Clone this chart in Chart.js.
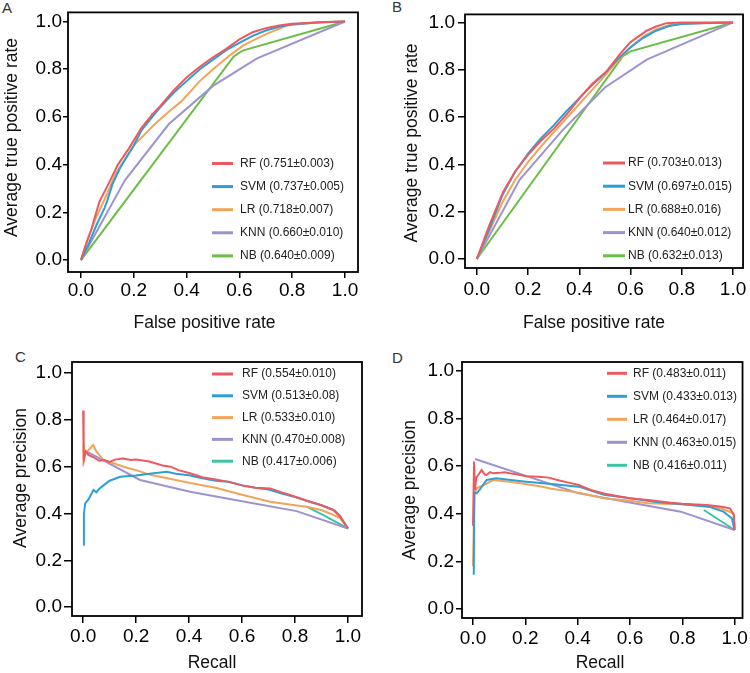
<!DOCTYPE html>
<html>
<head>
<meta charset="utf-8">
<script src="https://cdn.jsdelivr.net/npm/chart.js@4.4.0/dist/chart.umd.min.js"></script>
<style>
  body { margin: 0; background: #fff; width: 750px; height: 673px; position: relative; overflow: hidden;
         font-family: 'Liberation Sans', Arial, sans-serif; }
  canvas { position: absolute; }
  .tag { position: absolute; font-size: 15px; line-height: 15px; color: #333; }
</style>
</head>
<body>
<div class="tag" style="left:2px;top:0px">A</div>
<div class="tag" style="left:392px;top:-1px">B</div>
<div class="tag" style="left:15px;top:349px">C</div>
<div class="tag" style="left:392px;top:350px">D</div>
<canvas id="cA" width="375" height="334" style="left:0;top:0"></canvas>
<canvas id="cB" width="375" height="334" style="left:375px;top:0"></canvas>
<canvas id="cC" width="375" height="343" style="left:0;top:330px"></canvas>
<canvas id="cD" width="375" height="343" style="left:375px;top:330px"></canvas>
<script>
// models and scores
const models = ['RF', 'SVM', 'LR', 'KNN', 'NB'];
const scoreA = ['0.751±0.003', '0.737±0.005', '0.718±0.007', '0.660±0.010', '0.640±0.009'];
const scoreB = ['0.703±0.013', '0.697±0.015', '0.688±0.016', '0.640±0.012', '0.632±0.013'];
const scoreC = ['0.554±0.010', '0.513±0.08', '0.533±0.010', '0.470±0.008', '0.417±0.006'];
const scoreD = ['0.483±0.011', '0.433±0.013', '0.464±0.017', '0.463±0.015', '0.416±0.011'];
const tickVals = [0, 0.2, 0.4, 0.6, 0.8, 1.0];

// A: ROC curves [fpr, tpr]
const A_RF = [[0,0],[0.02,0.07],[0.04,0.13],[0.07,0.245],[0.1,0.31],[0.14,0.4],[0.18,0.465],[0.23,0.555],[0.27,0.61],[0.3,0.645],[0.35,0.71],[0.4,0.765],[0.45,0.81],[0.5,0.85],[0.55,0.885],[0.6,0.925],[0.65,0.955],[0.7,0.972],[0.75,0.983],[0.8,0.99],[0.9,0.997],[1,1]];
const A_SVM = [[0,0],[0.03,0.07],[0.06,0.15],[0.09,0.22],[0.1,0.25],[0.12,0.32],[0.15,0.39],[0.2,0.48],[0.23,0.545],[0.27,0.6],[0.3,0.64],[0.35,0.7],[0.4,0.75],[0.45,0.8],[0.5,0.84],[0.55,0.88],[0.6,0.91],[0.65,0.94],[0.7,0.962],[0.75,0.978],[0.8,0.988],[0.9,0.996],[1,1]];
const A_LR = [[0,0],[0.03,0.1],[0.05,0.16],[0.1,0.28],[0.13,0.36],[0.2,0.48],[0.28,0.57],[0.33,0.62],[0.38,0.665],[0.45,0.75],[0.5,0.8],[0.564,0.858],[0.615,0.9],[0.65,0.92],[0.703,0.948],[0.78,0.983],[0.9,0.997],[1,1]];
const A_KNN = [[0,0],[0.167,0.335],[0.333,0.57],[0.5,0.73],[0.667,0.845],[1,1]];
const A_NB = [[0,0],[0.577,0.851],[0.6,0.87],[0.615,0.879],[1,1]];

// B: ROC curves
const B_RF = [[0,0],[0.05,0.145],[0.103,0.285],[0.15,0.37],[0.2,0.44],[0.25,0.5],[0.3,0.55],[0.35,0.61],[0.405,0.685],[0.45,0.74],[0.508,0.795],[0.56,0.868],[0.6,0.917],[0.663,0.965],[0.7,0.983],[0.74,0.997],[0.8,1],[1,1]];
const B_SVM = [[0,0],[0.05,0.13],[0.1,0.27],[0.15,0.37],[0.2,0.445],[0.25,0.51],[0.3,0.565],[0.35,0.625],[0.4,0.68],[0.45,0.735],[0.5,0.785],[0.55,0.845],[0.6,0.895],[0.65,0.935],[0.7,0.965],[0.75,0.985],[0.8,0.993],[0.9,0.998],[1,1]];
const B_LR = [[0,0],[0.05,0.12],[0.1,0.24],[0.15,0.335],[0.2,0.41],[0.25,0.475],[0.3,0.535],[0.35,0.595],[0.4,0.655],[0.45,0.715],[0.5,0.775],[0.55,0.84],[0.6,0.895],[0.65,0.94],[0.7,0.97],[0.75,0.988],[0.8,0.995],[1,1]];
const B_KNN = [[0,0],[0.167,0.335],[0.335,0.545],[0.5,0.725],[0.663,0.843],[1,1]];
const B_NB = [[0,0],[0.57,0.857],[0.6,0.878],[1,1]];

// C: precision-recall curves [recall, precision]
const C_RF = [[0,0.84],[0.002,0.63],[0.01,0.665],[0.02,0.65],[0.04,0.64],[0.06,0.625],[0.08,0.628],[0.1,0.62],[0.12,0.63],[0.15,0.635],[0.18,0.628],[0.2,0.63],[0.25,0.622],[0.3,0.605],[0.33,0.6],[0.36,0.585],[0.404,0.572],[0.45,0.555],[0.5,0.545],[0.55,0.535],[0.6,0.52],[0.65,0.51],[0.706,0.507],[0.75,0.49],[0.781,0.479],[0.857,0.45],[0.9,0.435],[0.945,0.415],[0.97,0.386],[1,0.336]];
const C_SVM = [[0,0.266],[0.003,0.4],[0.008,0.443],[0.02,0.46],[0.039,0.5],[0.05,0.49],[0.06,0.505],[0.077,0.52],[0.1,0.54],[0.14,0.557],[0.2,0.562],[0.25,0.57],[0.316,0.578],[0.35,0.57],[0.4,0.563],[0.45,0.55],[0.5,0.54],[0.55,0.535],[0.6,0.52],[0.65,0.51],[0.7,0.502],[0.75,0.485],[0.8,0.47],[0.85,0.452],[0.9,0.435],[0.95,0.412],[0.97,0.39],[1,0.336]];
const C_LR = [[0,0.63],[0.002,0.7],[0.004,0.63],[0.01,0.665],[0.02,0.67],[0.038,0.692],[0.05,0.665],[0.077,0.628],[0.1,0.62],[0.165,0.595],[0.2,0.585],[0.253,0.565],[0.3,0.555],[0.404,0.53],[0.5,0.51],[0.6,0.48],[0.706,0.45],[0.8,0.435],[0.844,0.429],[0.9,0.415],[0.932,0.4],[0.97,0.38],[1,0.336]];
const C_KNN = [[0.014,0.664],[0.215,0.543],[0.404,0.493],[0.6,0.452],[0.806,0.41],[1,0.336]];
const C_NB = [[0.844,0.429],[0.907,0.393],[1,0.336]];

// D: precision-recall curves
const D_RF = [[0,0.35],[0.004,0.62],[0.008,0.5],[0.012,0.55],[0.02,0.563],[0.033,0.584],[0.045,0.565],[0.052,0.563],[0.065,0.575],[0.077,0.57],[0.1,0.572],[0.12,0.575],[0.14,0.57],[0.17,0.565],[0.203,0.558],[0.25,0.556],[0.29,0.552],[0.33,0.54],[0.37,0.53],[0.404,0.521],[0.45,0.5],[0.5,0.485],[0.55,0.475],[0.6,0.465],[0.668,0.458],[0.75,0.447],[0.8,0.442],[0.894,0.437],[0.95,0.43],[0.982,0.423],[0.997,0.395],[1,0.332]];
const D_SVM = [[0.003,0.144],[0.005,0.49],[0.014,0.486],[0.025,0.5],[0.052,0.542],[0.089,0.549],[0.12,0.545],[0.203,0.535],[0.3,0.525],[0.404,0.514],[0.5,0.48],[0.6,0.465],[0.7,0.45],[0.8,0.44],[0.9,0.43],[0.957,0.409],[0.989,0.381],[1,0.332]];
const D_LR = [[0,0.18],[0.003,0.35],[0.006,0.48],[0.014,0.507],[0.04,0.52],[0.077,0.542],[0.14,0.535],[0.2,0.525],[0.265,0.514],[0.3,0.505],[0.404,0.489],[0.5,0.465],[0.6,0.455],[0.668,0.444],[0.8,0.44],[0.9,0.432],[0.945,0.423],[0.995,0.402],[1,0.34]];
const D_KNN = [[0.008,0.63],[0.404,0.486],[0.794,0.409],[1,0.332]];
const D_NB = [[0.882,0.416],[1,0.332]];

const colors = ['#ec5a61', '#2c9fd7', '#f3a45b', '#9e93cf'];
const nbGreen = '#6abd45';
const nbTeal = '#3cc4a4';
const FONT = "'Liberation Sans', Arial, sans-serif";

// frame box, axis titles and inner legend
const frameLegend = {
  id: 'frameLegend',
  afterDatasetsDraw(chart, args, o) {
    const ctx = chart.ctx, a = chart.chartArea;
    ctx.save();
    ctx.strokeStyle = '#000';
    ctx.lineWidth = 1.8;
    ctx.strokeRect(a.left, a.top, a.right - a.left, a.bottom - a.top);

    ctx.fillStyle = '#111';
    ctx.font = '17.5px ' + FONT;
    ctx.textAlign = 'center';
    ctx.textBaseline = 'middle';
    ctx.fillText(o.xTitle, o.xt[0], o.xt[1]);
    ctx.save();
    ctx.translate(o.yt[0], o.yt[1]);
    ctx.rotate(-Math.PI / 2);
    ctx.fillText(o.yTitle, 0, 0);
    ctx.restore();

    ctx.font = '12px ' + FONT;
    ctx.textAlign = 'left';
    ctx.fillStyle = '#222';
    chart.data.datasets.forEach((ds, i) => {
      const y = o.y0 + o.dy * i;
      ctx.strokeStyle = ds.borderColor;
      ctx.lineWidth = 3;
      ctx.beginPath();
      ctx.moveTo(o.lx0, y);
      ctx.lineTo(o.lx1, y);
      ctx.stroke();
      ctx.fillText(ds.label, o.tx, y);
    });
    ctx.restore();
  }
};

function toXY(arr) { return arr.map(p => ({x: p[0], y: p[1]})); }

function makePanel(id, p) {
  const datasets = p.series.map((s, i) => ({
    label: models[i] + ' (' + p.scores[i] + ')',
    data: toXY(s),
    borderColor: i < 4 ? colors[i] : p.nbColor,
    borderWidth: 2,
    pointRadius: 0,
    showLine: true,
    fill: false,
    tension: 0
  }));
  const tickCfg = (len, pad) => ({
    grid: {display: true, drawOnChartArea: false, drawTicks: true, tickLength: len, color: '#000', lineWidth: 1.5},
    border: {display: false},
    ticks: {color: '#000', padding: pad, font: {family: FONT, size: 19}, callback: v => v.toFixed(1), maxRotation: 0, autoSkip: false}
  });
  const xs = tickCfg(p.xTick[0], p.xTick[1]);
  const ys = tickCfg(p.yTick[0], p.yTick[1]);
  new Chart(document.getElementById(id), {
    type: 'scatter',
    data: {datasets},
    options: {
      responsive: false,
      animation: false,
      layout: {padding: {left: 0, top: p.padTop, right: p.padRight, bottom: 0}},
      plugins: {legend: {display: false}, tooltip: {enabled: false}, frameLegend: p.legend},
      scales: {
        x: Object.assign(xs, {
          type: 'linear', min: p.xr[0], max: p.xr[1],
          afterBuildTicks: s => { s.ticks = tickVals.map(v => ({value: v})); },
          afterFit: s => { s.height = p.xH; }
        }),
        y: Object.assign(ys, {
          type: 'linear', min: p.yr[0], max: p.yr[1],
          afterBuildTicks: s => { s.ticks = tickVals.map(v => ({value: v})); },
          afterFit: s => { s.width = p.yW; }
        })
      }
    },
    plugins: [frameLegend]
  });
}

makePanel('cA', {
  series: [A_RF, A_SVM, A_LR, A_KNN, A_NB], scores: scoreA, nbColor: nbGreen,
  xr: [-0.049, 1.049], yr: [-0.05, 1.038], padTop: 12, padRight: 17, yW: 68, xH: 62,
  xTick: [6, 1], yTick: [5, 1],
  legend: {lx0: 212, lx1: 233, tx: 240, y0: 163.5, dy: 23.1,
           xTitle: 'False positive rate', yTitle: 'Average true positive rate', xt: [204.5, 323], yt: [12.5, 137.5]}
});
makePanel('cB', {
  series: [B_RF, B_SVM, B_LR, B_KNN, B_NB], scores: scoreB, nbColor: nbGreen,
  xr: [-0.046, 1.039], yr: [-0.038, 1.034], padTop: 14, padRight: 4, yW: 90, xH: 66,
  xTick: [7, 3.6], yTick: [7, 3],
  legend: {lx0: 228, lx1: 250, tx: 253, y0: 163, dy: 23.2,
           xTitle: 'False positive rate', yTitle: 'Average true positive rate', xt: [219, 323], yt: [37.5, 143]}
});
makePanel('cC', {
  series: [C_RF, C_SVM, C_LR, C_KNN, C_NB], scores: scoreC, nbColor: nbTeal,
  xr: [-0.042, 1.053], yr: [-0.038, 1.047], padTop: 32, padRight: 13, yW: 72, xH: 57,
  xTick: [7, 2.3], yTick: [8, 2],
  legend: {lx0: 212, lx1: 233, tx: 242, y0: 44, dy: 21.8,
           xTitle: 'Recall', yTitle: 'Average precision', xt: [212, 333], yt: [21.5, 148]}
});
makePanel('cD', {
  series: [D_RF, D_SVM, D_LR, D_KNN, D_NB], scores: scoreD, nbColor: nbTeal,
  xr: [-0.042, 1.03], yr: [-0.038, 1.038], padTop: 32, padRight: 4, yW: 87, xH: 55,
  xTick: [7, 2], yTick: [6, 2],
  legend: {lx0: 232, lx1: 252, tx: 258, y0: 43.3, dy: 23,
           xTitle: 'Recall', yTitle: 'Average precision', xt: [225, 333], yt: [35, 160]}
});
</script>
</body>
</html>
